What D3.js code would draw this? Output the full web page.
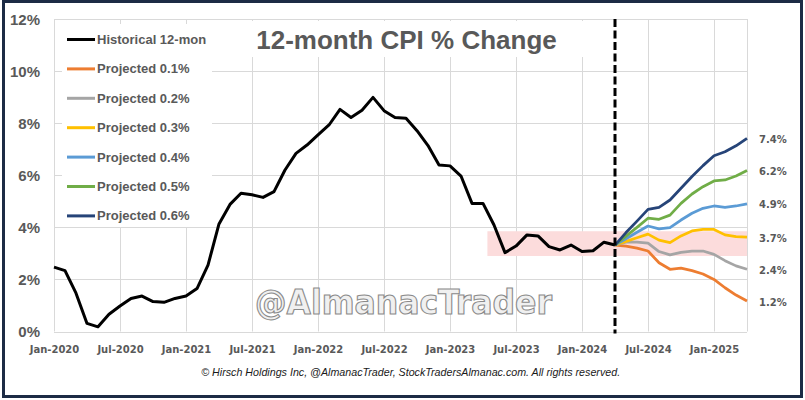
<!DOCTYPE html>
<html><head><meta charset="utf-8">
<script src="https://cdn.jsdelivr.net/npm/d3@7"></script>
<style>body{margin:0;background:#fff;}svg{display:block;}</style>
</head><body>
<svg id="chart" width="805" height="400"></svg>
<script>
// ---- data ----
const xTickLabels = ["Jan-2020","Jul-2020","Jan-2021","Jul-2021","Jan-2022","Jul-2022","Jan-2023","Jul-2023","Jan-2024","Jul-2024","Jan-2025"];
const xTickIndex = [0,6,12,18,24,30,36,42,48,54,60];
const yTicks = [0,2,4,6,8,10,12];
const historical = [
  2.47,2.34,1.47,0.31,0.18,0.66,0.98,1.27,1.36,1.15,1.12,1.27,
  1.36,1.65,2.55,4.13,4.88,5.31,5.25,5.15,5.37,6.20,6.84,7.16,
  7.55,7.93,8.53,8.22,8.50,8.99,8.48,8.22,8.19,7.71,7.14,6.39,
  6.36,5.97,4.92,4.92,4.09,3.03,3.28,3.71,3.67,3.26,3.13,3.32,
  3.07,3.10,3.43,3.32
];
const projStart = 51; // Apr-2024 index
const proj01 = [3.32,3.28,3.20,3.09,2.64,2.39,2.43,2.34,2.21,2.00,1.68,1.40,1.17];
const proj02 = [3.32,3.43,3.43,3.39,3.07,2.94,3.04,3.09,3.09,2.96,2.72,2.52,2.39];
const proj03 = [3.32,3.46,3.60,3.74,3.51,3.41,3.67,3.86,3.92,3.92,3.71,3.64,3.62];
const proj04 = [3.32,3.56,3.81,4.05,3.94,3.99,4.28,4.54,4.73,4.82,4.77,4.82,4.90];
const proj05 = [3.32,3.66,4.00,4.35,4.31,4.47,4.92,5.28,5.56,5.78,5.82,5.97,6.18];
const proj06 = [3.32,3.80,4.24,4.69,4.77,5.05,5.50,5.95,6.37,6.75,6.90,7.13,7.42];
const seriesNames = ["Historical 12-mon","Projected 0.1%","Projected 0.2%","Projected 0.3%","Projected 0.4%","Projected 0.5%","Projected 0.6%"];
const seriesColors = ["#000000","#ED7D31","#A5A5A5","#FFC000","#5B9BD5","#70AD47","#264478"];
const endLabels = ["7.4%","6.2%","4.9%","3.7%","2.4%","1.2%"];
const bandRange = [2.9, 3.85];
const bandStartIndex = 39.4;

// ---- layout ----
const svg = d3.select("#chart");
const x = d3.scaleLinear().domain([0,63]).range([54,747]);
const y = d3.scaleLinear().domain([0,12]).range([331.5,19]);
const grey = "#595959";

svg.append("rect").attr("width",805).attr("height",400).attr("fill","#fff");

// gridlines
const grid = svg.append("g").attr("stroke","#d9d9d9").attr("stroke-width",1);
yTicks.forEach(t=>grid.append("line").attr("x1",x(0)).attr("x2",x(63)).attr("y1",Math.round(y(t))+0.5).attr("y2",Math.round(y(t))+0.5));
xTickIndex.concat([63]).forEach(t=>grid.append("line").attr("x1",Math.round(x(t))+0.5).attr("x2",Math.round(x(t))+0.5).attr("y1",y(12)).attr("y2",y(0)));

// watermark
svg.append("text").attr("x",255).attr("y",314).attr("textLength",297).attr("lengthAdjust","spacingAndGlyphs")
  .style("font-family","'Liberation Sans Narrow','DejaVu Sans Condensed','Liberation Sans',sans-serif")
  .style("font-weight","bold").style("font-size","33px")
  .attr("fill","#f0f0f0").attr("stroke","#8a8a8a").attr("stroke-width",1)
  .text("@AlmanacTrader");

// pink band
svg.append("rect").attr("x",x(bandStartIndex)).attr("width",x(63)-x(bandStartIndex))
  .attr("y",y(bandRange[1])).attr("height",y(bandRange[0])-y(bandRange[1]))
  .attr("fill","#fcdcdc");

// y axis labels
const yAxis = d3.axisLeft(y).tickValues(yTicks).tickFormat(d=>d+"%").tickSize(0).tickPadding(0);
const ya = svg.append("g").attr("transform","translate(40,0)").call(yAxis);
ya.select(".domain").remove();
ya.selectAll("text").style("font-family","'Liberation Sans',Arial,sans-serif").style("font-weight","bold")
  .style("font-size","15px").attr("fill",grey).attr("dy","0.35em");

// x axis labels
const xAxis = d3.axisBottom(x).tickValues(xTickIndex).tickFormat((d,i)=>xTickLabels[i]).tickSize(0).tickPadding(0);
const xa = svg.append("g").attr("transform","translate(0,346)").call(xAxis);
xa.select(".domain").remove();
xa.selectAll("text").style("font-family","'DejaVu Sans',Verdana,sans-serif").style("font-weight","bold")
  .style("font-size","10px").attr("fill",grey).attr("dy","0.71em");

// lines
const line = d3.line().x(d=>x(d[0])).y(d=>y(d[1]));
const projections = [proj01,proj02,proj03,proj04,proj05,proj06];
svg.append("path").datum(historical.map((v,i)=>[i,v])).attr("d",line)
  .attr("fill","none").attr("stroke",seriesColors[0]).attr("stroke-width",3).attr("stroke-linejoin","round");
projections.forEach((p,k)=>{
  svg.append("path").datum(p.map((v,i)=>[projStart+i,v])).attr("d",line)
    .attr("fill","none").attr("stroke",seriesColors[k+1]).attr("stroke-width",2.75).attr("stroke-linejoin","round");
});

// dashed divider
svg.append("line").attr("x1",x(projStart)).attr("x2",x(projStart)).attr("y1",y(12)).attr("y2",y(0)+2)
  .attr("stroke","#000").attr("stroke-width",3).attr("stroke-dasharray","8,3.5");

// end labels
const finals = projections.map(p=>p[p.length-1]).reverse();
finals.forEach((v,i)=>{
  svg.append("text").attr("x",759).attr("y",y(v)+1).attr("dy","0.35em")
    .style("font-family","'DejaVu Sans',Verdana,sans-serif").style("font-weight","bold").style("font-size","10px")
    .attr("fill",grey).text(endLabels[i]);
});

// legend
svg.append("rect").attr("x",62).attr("y",24).attr("width",150).attr("height",203).attr("fill","#fff");
seriesNames.forEach((n,i)=>{
  const yy = 39.5 + i*29.4;
  svg.append("line").attr("x1",67).attr("x2",95).attr("y1",yy).attr("y2",yy)
    .attr("stroke",seriesColors[i]).attr("stroke-width",3);
  svg.append("text").attr("x",97).attr("y",yy).attr("dy","0.35em")
    .style("font-family","'Liberation Sans',Arial,sans-serif").style("font-weight","bold").style("font-size","13px")
    .attr("fill",grey).text(n);
});

// title
svg.append("rect").attr("x",240).attr("y",21).attr("width",345).attr("height",36).attr("fill","#fff");
svg.append("text").attr("x",406.5).attr("y",49).attr("text-anchor","middle")
  .style("font-family","'Liberation Sans',Arial,sans-serif").style("font-weight","bold").style("font-size","26px")
  .attr("fill",grey).text("12-month CPI % Change");

// footer
svg.append("text").attr("x",410.7).attr("y",372).attr("dy","0.35em").attr("text-anchor","middle")
  .style("font-family","'Liberation Sans',Arial,sans-serif").style("font-style","italic").style("font-size","10.7px")
  .attr("fill","#1a1a1a").text("\u00A9 Hirsch Holdings Inc, @AlmanacTrader, StockTradersAlmanac.com. All rights reserved.");

// frame
svg.append("rect").attr("x",3.5).attr("y",1.5).attr("width",798).attr("height",395)
  .attr("fill","none").attr("stroke","#1c2b45").attr("stroke-width",3);
</script>
</body></html>
